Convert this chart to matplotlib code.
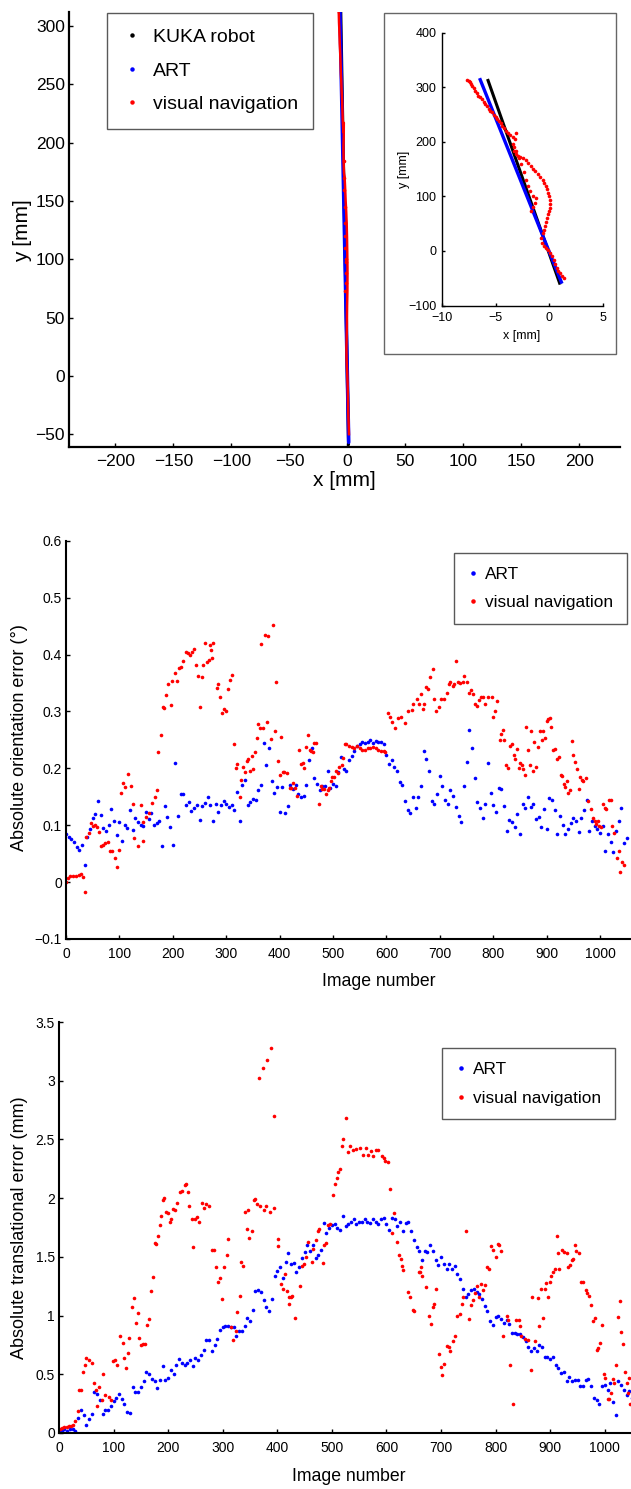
import numpy as np
import matplotlib
matplotlib.use("Agg")
import matplotlib.pyplot as plt
from matplotlib.lines import Line2D
from matplotlib.patches import Rectangle

plt.rcParams['font.family'] = ['Liberation Sans', 'DejaVu Sans']

# ---------------- data: trajectory (mm) ----------------
kuka_x = [-5.71, 0.96]
kuka_y = [312.6, -59.0]
art_x = [-6.44, 1.12]
art_y = [314.0, -57.0]

# visual navigation trajectory, read along the red trace of the inset
vn_x = [-7.7, -7.5, -7.4, -7.3, -7.23, -7.0, -6.9, -6.75, -6.6, -6.45,
        -6.3, -6.1, -5.96, -5.8, -5.64, -5.5, -5.32, -5.15, -5.0, -4.85,
        -4.69, -4.5, -4.37, -4.2, -4.06, -3.85, -3.68, -3.36, -3.1, -3.17,
        -3.42, -3.3, -3.26, -3.1, -2.94, -2.7, -2.47, -2.2, -2.0, -1.75,
        -1.52, -1.3, -1.04, -0.85, -0.63, -0.5, -0.34, -0.25, -0.15, -0.05,
        0.05, 0.07, 0.02, 0.0, -0.12, -0.25, -0.35, -0.4, -0.5, -0.63,
        -0.82, -0.72, -0.5, -0.31, -0.1, 0.07, 0.25, 0.39, 0.55, 0.71,
        0.85, 1.03, 1.2, 1.35]
vn_y = [312.6, 311, 310, 306, 303, 298, 294, 290, 285, 282,
        279, 274, 270, 265, 260, 257, 254, 249, 245, 242,
        239, 235, 230, 225, 220, 216, 213, 209, 217, 205,
        196, 190, 184, 178, 174, 172, 171, 166, 162, 156,
        150, 146, 141, 136, 131, 125, 119, 113, 107, 100,
        93, 86, 79, 73, 67, 61, 53, 45, 39, 33,
        24, 15, 10, 5.5, 1, -3.7, -10, -16, -24, -31,
        -36, -40, -45, -50]
vn_branch_x = [-3.1, -2.85, -2.63, -2.4, -2.15, -2.0, -1.83, -1.52, -1.36, -1.2, -1.67, -1.55]
vn_branch_y = [184, 170, 159, 145, 131, 120, 110, 100, 88, 98, 73, 80]

# ---------------- data: orientation error (deg) ----------------
img_step = np.arange(0, 1051, 5)
art_ori = [
    0.085, 0.080, 0.076, 0.070, 0.062, 0.057, 0.066, 0.030, 0.080, 0.093,
    0.113, 0.120, 0.143, 0.118, 0.095, 0.090, 0.100, 0.129, 0.107, 0.082,
    0.105, 0.073, 0.100, 0.095, 0.127, 0.092, 0.113, 0.105, 0.100, 0.098,
    0.124, 0.111, 0.121, 0.100, 0.103, 0.107, 0.064, 0.133, 0.114, 0.096,
    0.066, 0.210, 0.117, 0.154, 0.154, 0.135, 0.140, 0.125, 0.130, 0.135,
    0.110, 0.133, 0.139, 0.149, 0.136, 0.107, 0.138, 0.124, 0.136, 0.142,
    0.138, 0.132, 0.135, 0.127, 0.158, 0.107, 0.170, 0.180, 0.136, 0.140,
    0.146, 0.144, 0.162, 0.171, 0.245, 0.206, 0.235, 0.178, 0.156, 0.168,
    0.123, 0.168, 0.121, 0.134, 0.171, 0.163, 0.170, 0.155, 0.150, 0.152,
    0.171, 0.215, 0.235, 0.183, 0.172, 0.162, 0.169, 0.169, 0.195, 0.165,
    0.172, 0.169, 0.193, 0.220, 0.198, 0.196, 0.214, 0.222, 0.231, 0.240,
    0.243, 0.246, 0.244, 0.247, 0.250, 0.245, 0.248, 0.246, 0.247, 0.243,
    0.223, 0.207, 0.214, 0.202, 0.195, 0.176, 0.171, 0.142, 0.126, 0.121,
    0.149, 0.131, 0.149, 0.169, 0.231, 0.217, 0.196, 0.142, 0.138, 0.154,
    0.186, 0.169, 0.145, 0.138, 0.161, 0.151, 0.132, 0.117, 0.105, 0.169,
    0.211, 0.267, 0.236, 0.183, 0.140, 0.131, 0.113, 0.138, 0.210, 0.157,
    0.135, 0.124, 0.166, 0.164, 0.134, 0.090, 0.109, 0.106, 0.097, 0.120,
    0.085, 0.138, 0.130, 0.149, 0.132, 0.138, 0.111, 0.114, 0.096, 0.128,
    0.093, 0.148, 0.145, 0.126, 0.085, 0.116, 0.100, 0.085, 0.093, 0.103,
    0.112, 0.107, 0.088, 0.112, 0.126, 0.144, 0.090, 0.107, 0.099, 0.093,
    0.087, 0.099, 0.055, 0.084, 0.070, 0.053, 0.090, 0.108, 0.131, 0.068,
    0.078]

vn_ori = [
    (0, 0.0), (3, 0.008), (8, 0.01), (13, 0.01), (19, 0.01), (25, 0.012), (29, 0.015), (31, 0.009),
    (35, -0.018), (38, 0.08), (43, 0.087), (47, 0.103), (50, 0.099), (54, 0.1), (58, 0.097),
    (62, 0.088), (65, 0.063), (69, 0.066), (73, 0.069), (78, 0.07), (82, 0.055), (87, 0.055),
    (91, 0.043), (96, 0.027), (100, 0.056), (103, 0.156), (107, 0.174), (111, 0.168), (117, 0.19),
    (122, 0.169), (125, 0.137), (128, 0.077), (134, 0.064), (140, 0.136), (144, 0.073),
    (145, 0.105), (150, 0.115), (155, 0.121), (161, 0.139), (166, 0.15), (170, 0.162),
    (173, 0.228), (177, 0.259), (181, 0.308), (184, 0.306), (188, 0.328), (191, 0.349),
    (196, 0.312), (198, 0.354), (204, 0.368), (208, 0.353), (212, 0.377), (216, 0.378),
    (220, 0.389), (224, 0.405), (228, 0.402), (232, 0.4), (236, 0.404), (239, 0.41),
    (244, 0.382), (248, 0.362), (251, 0.307), (254, 0.361), (257, 0.382), (260, 0.42),
    (264, 0.387), (268, 0.391), (270, 0.417), (272, 0.408), (273, 0.393), (275, 0.42),
    (282, 0.342), (285, 0.348), (288, 0.325), (293, 0.298), (296, 0.305), (299, 0.3),
    (304, 0.339), (307, 0.356), (310, 0.364), (315, 0.243), (318, 0.2), (321, 0.208),
    (325, 0.15), (328, 0.18), (332, 0.202), (335, 0.193), (338, 0.212), (341, 0.216),
    (345, 0.196), (348, 0.222), (351, 0.199), (354, 0.228), (357, 0.254), (360, 0.277),
    (363, 0.271), (366, 0.419), (369, 0.27), (373, 0.435), (377, 0.282), (379, 0.432),
    (383, 0.252), (387, 0.452), (391, 0.266), (394, 0.352), (397, 0.213), (400, 0.188),
    (403, 0.255), (406, 0.194), (409, 0.194), (414, 0.192), (419, 0.166), (422, 0.166),
    (425, 0.175), (428, 0.166), (432, 0.152), (436, 0.232), (440, 0.208), (443, 0.209),
    (446, 0.201), (450, 0.238), (453, 0.259), (456, 0.232), (459, 0.231), (462, 0.229),
    (465, 0.245), (469, 0.245), (473, 0.137), (477, 0.169), (480, 0.163), (484, 0.163),
    (487, 0.154), (490, 0.161), (493, 0.166), (496, 0.178), (499, 0.184), (502, 0.185),
    (505, 0.196), (510, 0.192), (511, 0.202), (516, 0.205), (519, 0.218), (522, 0.243),
    (525, 0.242), (530, 0.24), (535, 0.238), (540, 0.235), (545, 0.24), (550, 0.235),
    (555, 0.232), (560, 0.232), (565, 0.236), (570, 0.235), (575, 0.238), (580, 0.235),
    (585, 0.232), (590, 0.23), (595, 0.23), (598, 0.228), (603, 0.298), (607, 0.29),
    (611, 0.282), (616, 0.27), (622, 0.288), (628, 0.291), (634, 0.279), (641, 0.3),
    (647, 0.302), (650, 0.313), (657, 0.321), (661, 0.313), (664, 0.33), (668, 0.305),
    (671, 0.313), (674, 0.343), (677, 0.34), (681, 0.36), (687, 0.375), (690, 0.322),
    (693, 0.3), (699, 0.308), (703, 0.322), (708, 0.322), (713, 0.332), (717, 0.349),
    (720, 0.351), (724, 0.345), (727, 0.348), (730, 0.388), (734, 0.351), (738, 0.35),
    (743, 0.351), (746, 0.363), (750, 0.351), (755, 0.332), (759, 0.337), (762, 0.331),
    (766, 0.313), (770, 0.31), (773, 0.32), (777, 0.325), (781, 0.326), (785, 0.313),
    (790, 0.325), (797, 0.325), (800, 0.29), (803, 0.3), (808, 0.318), (812, 0.25),
    (815, 0.26), (818, 0.268), (821, 0.25), (823, 0.205), (827, 0.2), (832, 0.24),
    (835, 0.242), (838, 0.224), (840, 0.217), (844, 0.234), (848, 0.2), (850, 0.209),
    (853, 0.205), (856, 0.198), (859, 0.189), (862, 0.272), (865, 0.233), (868, 0.205),
    (871, 0.265), (874, 0.196), (877, 0.247), (880, 0.203), (883, 0.238), (887, 0.265),
    (891, 0.25), (894, 0.265), (897, 0.253), (900, 0.284), (903, 0.287), (906, 0.289),
    (909, 0.273), (912, 0.232), (915, 0.234), (920, 0.217), (923, 0.22), (926, 0.188),
    (929, 0.186), (932, 0.173), (934, 0.167), (938, 0.178), (940, 0.157), (943, 0.162),
    (947, 0.248), (950, 0.223), (953, 0.211), (956, 0.199), (960, 0.164), (963, 0.184),
    (966, 0.18), (969, 0.178), (973, 0.183), (977, 0.142), (983, 0.128), (986, 0.113),
    (990, 0.107), (993, 0.102), (996, 0.107), (999, 0.099), (1002, 0.097), (1006, 0.138),
    (1009, 0.131), (1012, 0.128), (1016, 0.144), (1021, 0.144), (1023, 0.099), (1026, 0.087),
    (1031, 0.043), (1035, 0.055), (1038, 0.018), (1041, 0.036), (1044, 0.03)]

# ---------------- data: translational error (mm) ----------------
art_trans = [
    0.02, 0.02, 0.03, 0.02, 0.03, 0.03, 0.02, 0.13, 0.20, 0.15,
    0.07, 0.12, 0.16, 0.35, 0.33, 0.28, 0.16, 0.20, 0.20, 0.23,
    0.27, 0.30, 0.33, 0.29, 0.25, 0.18, 0.17, 0.39, 0.35, 0.35,
    0.39, 0.44, 0.52, 0.50, 0.46, 0.44, 0.38, 0.45, 0.57, 0.45,
    0.47, 0.54, 0.50, 0.58, 0.63, 0.60, 0.58, 0.60, 0.62, 0.57,
    0.64, 0.62, 0.66, 0.71, 0.79, 0.79, 0.70, 0.75, 0.80, 0.88,
    0.90, 0.91, 0.91, 0.90, 0.90, 0.83, 0.87, 0.87, 0.91, 0.98,
    0.95, 1.05, 1.21, 1.22, 1.20, 1.13, 1.07, 1.04, 1.14, 1.34,
    1.38, 1.41, 1.32, 1.46, 1.53, 1.44, 1.45, 1.37, 1.41, 1.49,
    1.54, 1.60, 1.55, 1.60, 1.49, 1.52, 1.56, 1.79, 1.70, 1.75,
    1.77, 1.78, 1.75, 1.73, 1.85, 1.76, 1.78, 1.80, 1.82, 1.78,
    1.80, 1.80, 1.82, 1.80, 1.79, 1.82, 1.80, 1.78, 1.82, 1.83,
    1.78, 1.73, 1.83, 1.82, 1.76, 1.80, 1.72, 1.79, 1.80, 1.72,
    1.64, 1.58, 1.55, 1.47, 1.55, 1.54, 1.60, 1.55, 1.47, 1.43,
    1.50, 1.44, 1.40, 1.44, 1.40, 1.42, 1.35, 1.31, 1.23, 1.16,
    1.18, 1.22, 1.23, 1.20, 1.18, 1.14, 1.08, 1.04, 0.95, 0.92,
    0.99, 1.00, 0.97, 0.94, 0.96, 0.93, 0.85, 0.85, 0.84, 0.84,
    0.82, 0.78, 0.73, 0.70, 0.72, 0.70, 0.75, 0.73, 0.65, 0.65,
    0.63, 0.65, 0.58, 0.55, 0.51, 0.52, 0.44, 0.48, 0.44, 0.45,
    0.45, 0.40, 0.40, 0.45, 0.46, 0.40, 0.30, 0.28, 0.25, 0.40,
    0.41, 0.37, 0.43, 0.26, 0.15, 0.44, 0.41, 0.37, 0.32, 0.36,
    0.30]

vn_trans = [
    (2, 0.03), (6, 0.04), (10, 0.05), (14, 0.05), (18, 0.06), (22, 0.06), (26, 0.07), (30, 0.1),
    (35, 0.19), (36, 0.37), (40, 0.37), (44, 0.52), (47, 0.58), (50, 0.64), (55, 0.62),
    (61, 0.6), (64, 0.43), (67, 0.37), (70, 0.23), (73, 0.39), (78, 0.28), (80, 0.5),
    (84, 0.32), (91, 0.31), (96, 0.28), (99, 0.61), (103, 0.62), (106, 0.58), (112, 0.83),
    (117, 0.77), (120, 0.64), (122, 0.55), (126, 0.68), (129, 0.81), (134, 1.07), (138, 1.15),
    (141, 0.94), (144, 1.02), (146, 0.81), (150, 0.75), (154, 0.76), (157, 0.76), (161, 0.92),
    (164, 0.97), (169, 1.21), (172, 1.33), (175, 1.62), (178, 1.61), (181, 1.68), (185, 1.77),
    (187, 1.85), (191, 1.98), (193, 2.0), (196, 1.88), (200, 1.87), (203, 1.8), (206, 1.82),
    (209, 1.91), (213, 1.9), (216, 1.96), (221, 2.05), (226, 2.06), (230, 2.11), (232, 2.12),
    (237, 2.05), (239, 1.93), (243, 1.82), (246, 1.58), (250, 1.82), (253, 1.84), (257, 1.8),
    (262, 1.96), (266, 1.92), (270, 1.95), (274, 1.93), (280, 1.56), (284, 1.56), (287, 1.41),
    (292, 1.29), (295, 1.32), (299, 1.14), (303, 1.41), (307, 1.52), (310, 1.65), (316, 0.9),
    (318, 0.79), (324, 0.87), (327, 1.03), (332, 1.17), (334, 1.46), (338, 1.42), (341, 1.88),
    (344, 1.74), (347, 1.9), (349, 1.66), (353, 1.72), (357, 1.98), (359, 1.99), (362, 1.95),
    (367, 3.02), (368, 1.93), (374, 3.11), (375, 1.9), (380, 1.93), (381, 3.18), (387, 1.88),
    (388, 3.28), (393, 1.92), (394, 2.7), (401, 1.59), (402, 1.65), (406, 1.27), (410, 1.23),
    (414, 1.35), (417, 1.21), (421, 1.16), (422, 1.1), (425, 1.16), (427, 1.17), (433, 0.98),
    (441, 1.25), (445, 1.42), (449, 1.44), (453, 1.5), (456, 1.63), (464, 1.46), (466, 1.57),
    (470, 1.64), (474, 1.72), (477, 1.74), (483, 1.45), (486, 1.6), (489, 1.62), (492, 1.77),
    (496, 1.78), (502, 2.03), (505, 2.12), (509, 2.17), (512, 2.22), (515, 2.25), (518, 2.44),
    (521, 2.5), (526, 2.68), (529, 2.39), (533, 2.44), (539, 2.41), (545, 2.42), (551, 2.43),
    (557, 2.37), (562, 2.43), (566, 2.37), (571, 2.4), (575, 2.36), (580, 2.41), (585, 2.41),
    (591, 2.36), (596, 2.34), (598, 2.32), (603, 2.31), (606, 2.08), (610, 1.7), (613, 1.87),
    (619, 1.63), (623, 1.52), (626, 1.48), (629, 1.42), (631, 1.39), (639, 1.2), (643, 1.16),
    (649, 1.05), (651, 1.04), (659, 1.37), (662, 1.37), (664, 1.41), (665, 1.34), (673, 1.24),
    (678, 1.0), (681, 0.93), (685, 1.07), (687, 1.1), (691, 1.23), (696, 0.67), (699, 0.56),
    (701, 0.49), (705, 0.59), (711, 0.74), (714, 0.73), (717, 0.7), (722, 0.78), (726, 0.83),
    (730, 1.0), (734, 1.01), (738, 1.1), (741, 1.16), (745, 1.72), (752, 0.97), (754, 1.09),
    (758, 1.13), (762, 1.19), (766, 1.25), (769, 1.16), (773, 1.27), (777, 1.22), (780, 1.26),
    (785, 1.41), (788, 1.4), (791, 1.59), (795, 1.56), (800, 1.5), (804, 1.61), (807, 1.6),
    (809, 1.55), (813, 0.83), (820, 1.0), (823, 0.96), (827, 0.58), (832, 0.25), (837, 0.96),
    (842, 0.96), (844, 0.91), (847, 0.83), (853, 0.8), (859, 0.79), (864, 0.54), (867, 1.16),
    (872, 0.78), (877, 1.15), (880, 0.91), (884, 1.23), (887, 0.98), (890, 1.23), (893, 1.28),
    (896, 1.16), (899, 1.29), (902, 1.34), (905, 1.37), (908, 1.4), (913, 1.68), (915, 1.53),
    (917, 1.4), (921, 1.56), (925, 1.54), (930, 1.53), (933, 1.41), (936, 1.43), (939, 1.47),
    (942, 1.48), (945, 1.6), (948, 1.55), (952, 1.53), (956, 1.29), (960, 1.29), (965, 1.22),
    (968, 1.19), (971, 1.17), (975, 1.09), (979, 0.95), (982, 0.98), (985, 0.71), (988, 0.72),
    (991, 0.77), (995, 0.92), (998, 0.5), (1001, 0.47), (1005, 0.29), (1008, 0.29), (1011, 0.34),
    (1015, 0.46), (1017, 0.43), (1021, 0.58), (1024, 0.99), (1027, 1.12), (1030, 0.86),
    (1034, 0.76), (1037, 0.52), (1040, 0.43), (1043, 0.34), (1044, 0.47), (1046, 0.25)]

ori_ticks = [-0.1, 0, 0.1, 0.2, 0.3, 0.4, 0.5, 0.6]
ori_labels = ['\u22120.1', '0', '0.1', '0.2', '0.3', '0.4', '0.5', '0.6']
trans_ticks = [0, 0.5, 1, 1.5, 2, 2.5, 3, 3.5]
trans_labels = ['0', '0.5', '1', '1.5', '2', '2.5', '3', '3.5']

# ---------------- figure ----------------
W, H = 631, 1489
fig = plt.figure(figsize=(W / 100, H / 100), dpi=100)


def px_box(l, t, r, b):
    return [l / W, 1 - b / H, (r - l) / W, (b - t) / H]


def style(ax, lw=1.5, size=10, pad=3):
    for s in ['top', 'right']:
        ax.spines[s].set_visible(False)
    for s in ['left', 'bottom']:
        ax.spines[s].set_linewidth(lw)
    ax.tick_params(direction='in', length=3, width=1, labelsize=size, pad=pad)


dot = dict(linestyle='none', marker='o', ms=2.6, mew=0)
BLUE, RED = (0, 0, 1), (1, 0, 0)
leg_kw = dict(fancybox=False, edgecolor='0.35', framealpha=1, borderaxespad=0)

# top: trajectory
ax1 = fig.add_axes(px_box(69, 12, 620, 447))
ax1.plot(kuka_x, kuka_y, color='k', lw=2.2, solid_capstyle='round')
ax1.plot(art_x, art_y, color=BLUE, lw=2.6, solid_capstyle='round')
ax1.plot(vn_x, vn_y, color=RED, lw=1.8)
ax1.plot(vn_branch_x, vn_branch_y, color=RED, **dot)
ax1.set_xlim(-240, 235)
ax1.set_ylim(-61, 312)
ax1.set_xticks(range(-200, 201, 50))
ax1.set_yticks(range(-50, 301, 50))
style(ax1, lw=1.6, size=12.5, pad=3)
ax1.tick_params(axis='x', pad=5)
ax1.set_xlabel('x [mm]', fontsize=15)
ax1.set_ylabel('y [mm]', fontsize=15)
ax1.xaxis.set_label_coords(0.499, -0.055)
ax1.yaxis.set_label_coords(-0.067, 0.497)
h_top = [Line2D([], [], color=c, marker='o', ms=3.2, mew=0, ls='none') for c in ['k', BLUE, RED]]
ax1.legend(h_top, ['KUKA robot', 'ART', 'visual navigation'], loc='upper left',
           bbox_to_anchor=(107 / W, 1 - 12.8 / H), bbox_transform=fig.transFigure,
           fontsize=14, borderpad=0.8, handlelength=1.0, handletextpad=0.55,
           labelspacing=0.82, **leg_kw)

# inset frame and axes
fig.patches.append(Rectangle((384 / W, 1 - 354 / H), 232 / W, 341 / H, transform=fig.transFigure,
                             fill=False, edgecolor='0.4', lw=1))
ax_in = fig.add_axes(px_box(442, 32.8, 603, 305.5))
ax_in.plot(kuka_x, kuka_y, color='k', lw=2.2)
ax_in.plot(art_x, art_y, color=BLUE, lw=2.4)
ax_in.plot(vn_x, vn_y, color=RED, **dot)
ax_in.plot(vn_branch_x, vn_branch_y, color=RED, **dot)
ax_in.set_xlim(-10, 5)
ax_in.set_ylim(-100, 400)
ax_in.set_xticks([-10, -5, 0, 5])
ax_in.set_yticks(range(-100, 401, 100))
style(ax_in, lw=1.0, size=9, pad=4)
ax_in.tick_params(length=2.5)
ax_in.tick_params(axis='x', pad=5)
ax_in.set_xlabel('x [mm]', fontsize=9)
ax_in.set_ylabel('y [mm]', fontsize=9)
ax_in.xaxis.set_label_coords(0.497, -0.09)
ax_in.yaxis.set_label_coords(-0.2, 0.5)

# middle: orientation error
vo_x = [p[0] for p in vn_ori]
vo_y = [p[1] for p in vn_ori]
ax2 = fig.add_axes(px_box(66, 540.7, 631, 939))
ax2.plot(img_step, art_ori, color=BLUE, label='ART', **dot)
ax2.plot(vo_x, vo_y, color=RED, label='visual navigation', **dot)
ax2.set_xlim(0, 1058)
ax2.set_ylim(-0.1, 0.6)
ax2.set_xticks(range(0, 1001, 100))
ax2.set_yticks(ori_ticks)
ax2.set_yticklabels(ori_labels)
style(ax2, size=10, pad=3)
ax2.tick_params(axis='x', pad=6)
ax2.set_xlabel('Image number', fontsize=12.7)
ax2.set_ylabel('Absolute orientation error (\u00b0)', fontsize=13)
ax2.xaxis.set_label_coords(0.554, -0.085)
ax2.yaxis.set_label_coords(-0.067, 0.506)
ax2.legend(loc='upper left', bbox_to_anchor=(454 / W, 1 - 553 / H), bbox_transform=fig.transFigure,
           fontsize=12.4, markerscale=1.25, borderpad=0.8, handlelength=0.6, handletextpad=0.4,
           labelspacing=0.75, **leg_kw)

# bottom: translational error
vt_x = [p[0] for p in vn_trans]
vt_y = [p[1] for p in vn_trans]
ax3 = fig.add_axes(px_box(59, 1022, 631, 1433))
ax3.plot(img_step, art_trans, color=BLUE, label='ART', **dot)
ax3.plot(vt_x, vt_y, color=RED, label='visual navigation', **dot)
ax3.set_xlim(0, 1048)
ax3.set_ylim(0, 3.5)
ax3.set_xticks(range(0, 1001, 100))
ax3.set_yticks(trans_ticks)
ax3.set_yticklabels(trans_labels)
style(ax3, size=10, pad=3)
ax3.tick_params(axis='x', pad=6)
ax3.set_xlabel('Image number', fontsize=12.7)
ax3.set_ylabel('Absolute translational error (mm)', fontsize=13)
ax3.xaxis.set_label_coords(0.506, -0.085)
ax3.yaxis.set_label_coords(-0.054, 0.5)
ax3.legend(loc='upper left', bbox_to_anchor=(442 / W, 1 - 1048 / H), bbox_transform=fig.transFigure,
           fontsize=12.4, markerscale=1.25, borderpad=0.8, handlelength=0.6, handletextpad=0.4,
           labelspacing=0.8, **leg_kw)

fig.savefig('out.png', dpi=100)
